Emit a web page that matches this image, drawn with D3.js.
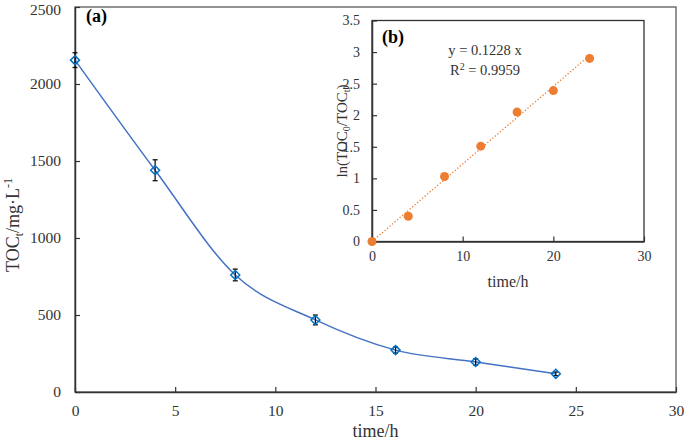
<!DOCTYPE html>
<html><head><meta charset="utf-8">
<script src="https://cdn.jsdelivr.net/npm/d3@7"></script>
<style>body{margin:0;background:#fff}</style>
</head><body>
<script>
// Data
const times = [0, 4, 8, 12, 16, 20, 24];
const tocValues = [2155, 1440, 760, 468, 272, 195, 118];
const tocErrors = [48, 68, 38, 32, 20, 20, 12];
const lnValues = [0, 0.40, 1.03, 1.51, 2.05, 2.39, 2.90];
const slope = 0.1228;
const mainXTicks = [0, 5, 10, 15, 20, 25, 30];
const mainYTicks = [0, 500, 1000, 1500, 2000, 2500];
const insetXTicks = [0, 10, 20, 30];
const insetYTicks = [0, 0.5, 1, 1.5, 2, 2.5, 3, 3.5];

const W = 685, H = 441;
const FONT = "'Liberation Serif', 'Times New Roman', serif";
const svg = d3.select("body").append("svg").attr("width", W).attr("height", H)
  .style("font-family", FONT);

// Main chart
const m = {l: 75, r: 676, t: 7, b: 392};
const x = d3.scaleLinear().domain([0, 30]).range([m.l, m.r]);
const y = d3.scaleLinear().domain([0, 2500]).range([m.b, m.t]);

svg.append("rect").attr("x", m.l).attr("y", m.t).attr("width", m.r - m.l).attr("height", m.b - m.t)
  .attr("fill", "none").attr("stroke", "#595959").attr("stroke-width", 1.3);

const xAx = svg.append("g").attr("transform", `translate(0,${m.b})`)
  .call(d3.axisBottom(x).tickValues(mainXTicks).tickFormat(d3.format("d")).tickSizeInner(-5).tickSizeOuter(0).tickPadding(13));
const yAx = svg.append("g").attr("transform", `translate(${m.l},0)`)
  .call(d3.axisLeft(y).tickValues(mainYTicks).tickFormat(d3.format("d")).tickSizeInner(-5).tickSizeOuter(0).tickPadding(14));
[xAx, yAx].forEach(g => {
  g.attr("font-family", FONT);
  g.select(".domain").attr("stroke", "#333").attr("stroke-width", 1.5);
  g.selectAll(".tick line").attr("stroke", "#333").attr("stroke-width", 1.2);
  g.selectAll("text").attr("font-size", 15.5).attr("fill", "#333");
});
// keep the top label inside the page
yAx.selectAll(".tick text").filter(d => d === 2500).attr("y", 2.5);

// Curve
const pts = times.map((t, i) => [x(t), y(tocValues[i])]);
svg.append("path").attr("d", d3.line().curve(d3.curveCatmullRom.alpha(0))(pts))
  .attr("fill", "none").attr("stroke", "#4472C4").attr("stroke-width", 1.5);

// Error bars
const eb = svg.append("g").attr("stroke", "#111").attr("stroke-width", 1.3);
times.forEach((t, i) => {
  const cx = x(t), y1 = y(tocValues[i] + tocErrors[i]), y2 = y(tocValues[i] - tocErrors[i]);
  eb.append("line").attr("x1", cx).attr("x2", cx).attr("y1", y1).attr("y2", y2);
  eb.append("line").attr("x1", cx - 2.5).attr("x2", cx + 2.5).attr("y1", y1).attr("y2", y1);
  eb.append("line").attr("x1", cx - 2.5).attr("x2", cx + 2.5).attr("y1", y2).attr("y2", y2);
});

// Diamonds
svg.append("g").selectAll("path").data(times).join("path")
  .attr("transform", (t, i) => `translate(${x(t)},${y(tocValues[i])})`)
  .attr("d", "M0,-4.5L4.5,0L0,4.5L-4.5,0Z")
  .attr("fill", "none").attr("stroke", "#0070C0").attr("stroke-width", 1.5);

svg.append("text").attr("x", 86).attr("y", 22).attr("font-size", 18).attr("font-weight", "bold").text("(a)");

svg.append("text").attr("x", (m.l + m.r) / 2).attr("y", 437).attr("text-anchor", "middle")
  .attr("font-size", 18).attr("fill", "#333").text("time/h");

const yt = svg.append("text").attr("transform", `translate(19,225) rotate(-90)`).attr("text-anchor", "middle")
  .attr("font-size", 18).attr("fill", "#333");
yt.append("tspan").text("TOC");
yt.append("tspan").attr("font-size", 12).attr("dy", 4).text("t");
yt.append("tspan").attr("dy", -4).text("/mg·L");
yt.append("tspan").attr("font-size", 12).attr("dy", -7).text("-1");

// Inset
const n = {l: 372, r: 644, t: 20.5, b: 241.5};
const xi = d3.scaleLinear().domain([0, 30]).range([n.l, n.r]);
const yi = d3.scaleLinear().domain([0, 3.5]).range([n.b, n.t]);

svg.append("rect").attr("x", 336).attr("y", 8).attr("width", 339).attr("height", 291).attr("fill", "#fff");

svg.append("rect").attr("x", n.l).attr("y", n.t).attr("width", n.r - n.l).attr("height", n.b - n.t)
  .attr("fill", "none").attr("stroke", "#333").attr("stroke-width", 1.3);

const xiAx = svg.append("g").attr("transform", `translate(0,${n.b})`)
  .call(d3.axisBottom(xi).tickValues(insetXTicks).tickFormat(d3.format("d")).tickSizeInner(-5).tickSizeOuter(0).tickPadding(10));
const yiAx = svg.append("g").attr("transform", `translate(${n.l},0)`)
  .call(d3.axisLeft(yi).tickValues(insetYTicks).tickFormat(d3.format("")).tickSizeInner(-5).tickSizeOuter(0).tickPadding(12));
[xiAx, yiAx].forEach(g => {
  g.attr("font-family", FONT);
  g.select(".domain").attr("stroke", "#333").attr("stroke-width", 1.5);
  g.selectAll(".tick line").attr("stroke", "#333").attr("stroke-width", 1.2);
  g.selectAll("text").attr("font-size", 14).attr("fill", "#333");
});

// Trendline
svg.append("line").attr("x1", xi(0)).attr("y1", yi(0)).attr("x2", xi(24)).attr("y2", yi(slope * 24))
  .attr("stroke", "#ED7D31").attr("stroke-width", 1.3).attr("stroke-dasharray", "1.3,2");

svg.append("g").selectAll("circle").data(times).join("circle")
  .attr("cx", t => xi(t)).attr("cy", (t, i) => yi(lnValues[i])).attr("r", 4.5)
  .attr("fill", "#ED7D31");

svg.append("text").attr("x", 382).attr("y", 43).attr("font-size", 18).attr("font-weight", "bold").text("(b)");
svg.append("text").attr("x", 485).attr("y", 55).attr("text-anchor", "middle").attr("font-size", 14.5)
  .attr("fill", "#333").text("y = 0.1228 x");
const r2 = svg.append("text").attr("x", 485).attr("y", 75).attr("text-anchor", "middle").attr("font-size", 14.5).attr("fill", "#333");
r2.append("tspan").text("R");
r2.append("tspan").attr("font-size", 10).attr("dy", -5).text("2");
r2.append("tspan").attr("dy", 5).text(" = 0.9959");

svg.append("text").attr("x", (n.l + n.r) / 2).attr("y", 287).attr("text-anchor", "middle")
  .attr("font-size", 16).attr("fill", "#333").text("time/h");

const yit = svg.append("text").attr("transform", `translate(347,131) rotate(-90)`).attr("text-anchor", "middle")
  .attr("font-size", 15).attr("fill", "#333");
yit.append("tspan").text("ln(TOC");
yit.append("tspan").attr("font-size", 10).attr("dy", 3).text("0");
yit.append("tspan").attr("dy", -3).text("/TOC");
yit.append("tspan").attr("font-size", 10).attr("dy", 3).text("t");
yit.append("tspan").attr("dy", -3).text(")");
</script>
</body></html>
